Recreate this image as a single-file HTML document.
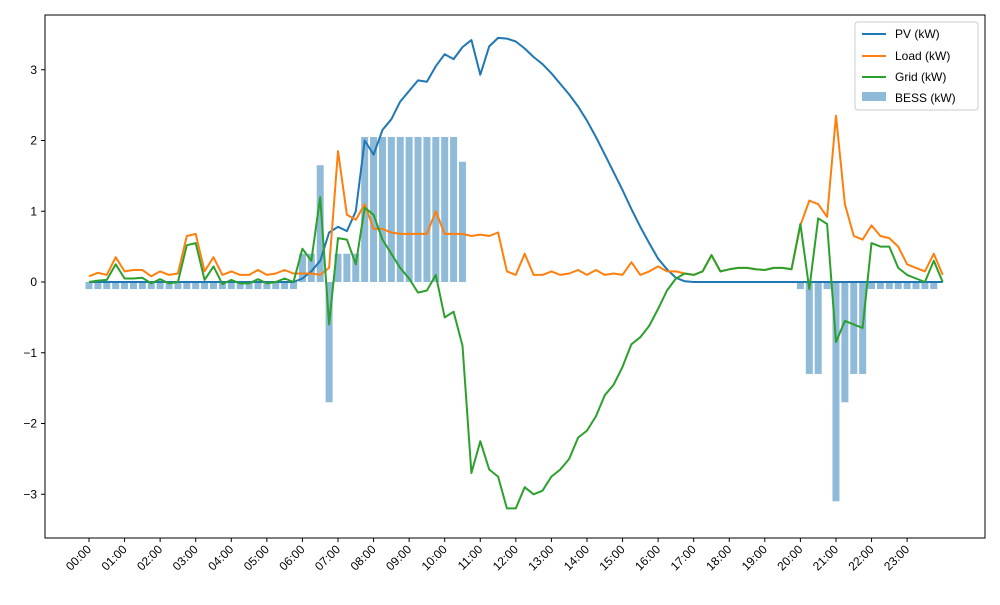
<!DOCTYPE html>
<html><head><meta charset="utf-8"><style>
body{margin:0;background:#fff;}
svg text{font-family:"Liberation Sans",sans-serif;font-size:12px;fill:#000;}
</style></head><body>
<svg id="chart" width="1000" height="600" xmlns="http://www.w3.org/2000/svg">
<g id="bars"></g>
<g id="lines"></g>
<rect x="45" y="15" width="940" height="523" fill="none" stroke="#000" stroke-width="1"/>
<g id="yaxis"></g>
<g id="xaxis"></g>
<g>
<rect x="855" y="22" width="123" height="88" rx="3" fill="#fff" fill-opacity="0.8" stroke="#ccc"/>
<line x1="862" y1="34" x2="886" y2="34" stroke="#1f77b4" stroke-width="2"/>
<text x="895" y="38">PV (kW)</text>
<line x1="862" y1="56" x2="886" y2="56" stroke="#ff7f0e" stroke-width="2"/>
<text x="895" y="60">Load (kW)</text>
<line x1="862" y1="77" x2="886" y2="77" stroke="#2ca02c" stroke-width="2"/>
<text x="895" y="81">Grid (kW)</text>
<rect x="862" y="92" width="24" height="9" fill="#1f77b4" fill-opacity="0.5"/>
<text x="895" y="102">BESS (kW)</text>
</g>
</svg>
<script>
const hours=["00:00","01:00","02:00","03:00","04:00","05:00","06:00","07:00","08:00","09:00","10:00","11:00","12:00","13:00","14:00","15:00","16:00","17:00","18:00","19:00","20:00","21:00","22:00","23:00"];
const yTicks=[-3,-2,-1,0,1,2,3];
// 15-minute samples
const pv=[0,0,0,0,0,0,0,0,0,0,0,0,0,0,0,0,0,0,0,0,0,0,0,0,
0.05,0.15,0.3,0.7,0.78,0.72,1.0,2.0,1.8,2.15,2.3,2.55,2.7,2.85,2.83,3.05,3.22,3.15,3.32,3.42,2.93,3.33,3.45,3.44,
3.4,3.3,3.18,3.08,2.95,2.8,2.65,2.48,2.28,2.05,1.8,1.55,1.3,1.03,0.78,0.55,0.33,0.18,0.06,0.01,0,0,0,0,
0,0,0,0,0,0,0,0,0,0,0,0,0,0,0,0,0,0,0,0,0,0,0,0,0];
const load=[0.08,0.13,0.1,0.35,0.15,0.17,0.17,0.08,0.15,0.1,0.12,0.65,0.68,0.15,0.35,0.1,0.15,0.1,0.1,0.17,0.1,0.12,0.17,0.12,
0.12,0.12,0.1,0.2,1.85,0.95,0.88,1.1,0.75,0.75,0.7,0.68,0.68,0.68,0.68,1.0,0.68,0.68,0.68,0.65,0.67,0.65,0.7,0.15,
0.1,0.4,0.1,0.1,0.15,0.1,0.12,0.17,0.1,0.17,0.1,0.12,0.1,0.28,0.1,0.15,0.22,0.15,0.15,0.12,0.1,0.15,0.38,0.15,
0.18,0.2,0.2,0.18,0.17,0.2,0.2,0.18,0.8,1.15,1.1,0.92,2.35,1.1,0.65,0.6,0.8,0.65,0.62,0.5,0.25,0.2,0.15,0.4,0.1];
const grid=[0,0.02,0.03,0.25,0.05,0.05,0.06,-0.02,0.04,-0.02,0,0.52,0.55,0.03,0.22,-0.03,0.03,-0.02,-0.02,0.04,-0.02,0,0.05,0,
0.47,0.3,1.2,-0.6,0.62,0.6,0.25,1.05,0.95,0.6,0.4,0.2,0.05,-0.15,-0.12,0.1,-0.5,-0.42,-0.9,-2.7,-2.25,-2.65,-2.75,-3.2,
-3.2,-2.9,-3.0,-2.95,-2.75,-2.65,-2.5,-2.2,-2.1,-1.9,-1.6,-1.45,-1.2,-0.88,-0.78,-0.62,-0.38,-0.12,0.05,0.12,0.1,0.15,0.38,0.15,
0.18,0.2,0.2,0.18,0.17,0.2,0.2,0.18,0.82,-0.1,0.9,0.82,-0.85,-0.55,-0.6,-0.65,0.55,0.5,0.5,0.2,0.1,0.05,0,0.3,0];
const bess=[-0.1,-0.1,-0.1,-0.1,-0.1,-0.1,-0.1,-0.1,-0.1,-0.1,-0.1,-0.1,-0.1,-0.1,-0.1,-0.1,-0.1,-0.1,-0.1,-0.1,-0.1,-0.1,-0.1,-0.1,
0.4,0.4,1.65,-1.7,0.4,0.4,0.4,2.05,2.05,2.05,2.05,2.05,2.05,2.05,2.05,2.05,2.05,2.05,1.7,0,0,0,0,0,
0,0,0,0,0,0,0,0,0,0,0,0,0,0,0,0,0,0,0,0,0,0,0,0,
0,0,0,0,0,0,0,0,-0.1,-1.3,-1.3,-0.1,-3.1,-1.7,-1.3,-1.3,-0.1,-0.1,-0.1,-0.1,-0.1,-0.1,-0.1,-0.1];
const NS="http://www.w3.org/2000/svg";
const X=h=>89+h*35.57;
const Y=v=>282-v*70.75;
const tOf=i=>i*0.25;
const svg=document.getElementById('chart');
function mk(tag,attrs,parent){const e=document.createElementNS(NS,tag);for(const k in attrs)e.setAttribute(k,attrs[k]);parent.appendChild(e);return e;}
const yg=document.getElementById('yaxis');
yTicks.forEach(v=>{
  const l=mk('line',{x1:41,x2:45,y1:Y(v),y2:Y(v),stroke:'#000'},yg);
  
  
  const t=mk('text',{x:37,y:Y(v)+4,'text-anchor':'end'},yg);
  t.textContent=v<0?'\u2212'+Math.abs(v):String(v);
  
  
});
const xg=document.getElementById('xaxis');
hours.forEach((h,i)=>{
  const x=X(i);
  const l=mk('line',{x1:x,x2:x,y1:538,y2:542,stroke:'#000'},xg);
  
  
  const t=mk('text',{x:x+3,y:550,'text-anchor':'end',transform:`rotate(-45 ${x+3} 550)`},xg);
  t.textContent=h;
  
  
});
const bg=document.getElementById('bars');
bess.forEach((v,i)=>{
  const x=X(tOf(i));
  const y0=Y(0),y1=Y(v);
  const r=mk('rect',{x:x-3.5,width:7,y:Math.min(y0,y1),height:Math.abs(y1-y0),fill:'#1f77b4','fill-opacity':0.5},bg);
  
  
});
const lg=document.getElementById('lines');
[[pv,'#1f77b4','pv-line'],[load,'#ff7f0e','load-line'],[grid,'#2ca02c','grid-line']].forEach(([arr,c,n])=>{
  const d=arr.map((v,i)=>(i?'L':'M')+X(tOf(i)).toFixed(1)+','+Y(v).toFixed(1)).join(' ');
  const p=mk('path',{d:d,fill:'none',stroke:c,'stroke-width':2,'stroke-linejoin':'round'},lg);
  
  
});
</script>
</body></html>
